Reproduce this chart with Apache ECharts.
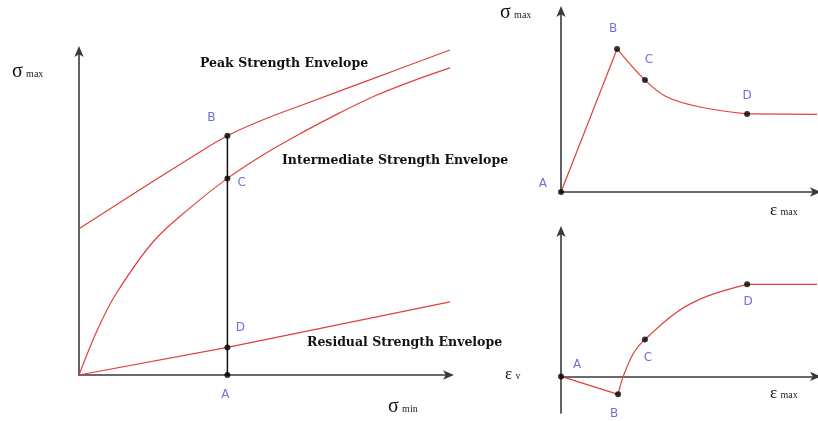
<!DOCTYPE html>
<html><head><meta charset="utf-8">
<script src="https://cdn.jsdelivr.net/npm/echarts@6/dist/echarts.min.js"></script>
<style>html,body{margin:0;padding:0;background:#fff}#c{width:818px;height:421px}</style>
</head><body><div id="c"></div>
<script>
// ---- Left panel: strength envelopes (x = sigma min, y = sigma max)
const peakX = [0, 2, 3, 4, 5, 6, 8, 10];
const peakY = [4.5, 5.96, 6.68, 7.36, 7.87, 8.3, 9.15, 10.0];
const interX = [0, 0.5, 1, 2, 3, 4, 5, 6, 7, 8, 9, 10];
const interY = [0, 1.4, 2.5, 4.1, 5.15, 6.05, 6.8, 7.45, 8.05, 8.6, 9.05, 9.45];
const resX = [0, 4, 10];
const resY = [0, 0.85, 2.25];
const pathX = [4, 4];
const pathY = [0, 7.36];
const leftNames = ['A', 'B', 'C', 'D'];
const leftPtX = [4, 4, 4, 4];
const leftPtY = [0, 7.36, 6.05, 0.85];
// ---- Top right: sigma max vs epsilon max
const trRiseX = [0, 2.19];
const trRiseY = [0, 7.86];
const trSoftX = [2.19, 3.28, 4.14, 5.43, 7.27];
const trSoftY = [7.86, 6.15, 5.22, 4.67, 4.29];
const trFlatX = [7.27, 10];
const trFlatY = [4.29, 4.26];
const trPtX = [0, 2.19, 3.28, 7.27];
const trPtY = [0, 7.86, 6.15, 4.29];
// ---- Bottom right: epsilon v vs epsilon max
const brRiseX = [0, 2.23];
const brRiseY = [0, -0.98];
const brSoftX = [2.23, 2.42, 2.82, 3.28, 4.52, 5.69, 7.27];
const brSoftY = [-0.98, -0.05, 1.24, 2.02, 3.51, 4.37, 5.03];
const brFlatX = [7.27, 10];
const brFlatY = [5.03, 5.03];
const brPtX = [0, 2.23, 3.28, 7.27];
const brPtY = [0, -0.98, 2.02, 5.03];

const zip = (xs, ys) => xs.map((x, i) => [x, ys[i]]);
const RED = '#e0403c';
const AX = {color: '#3a3a3a', width: 1.6};
const BLUE = '#4b4bd6';

function axis(idx, min, max, arrow) {
  return {
    type: 'value', gridIndex: idx, min: min, max: max,
    splitLine: {show: false}, axisTick: {show: false}, axisLabel: {show: false},
    axisLine: {show: true, onZero: true, lineStyle: AX,
      symbol: arrow ? ['none', 'arrow'] : ['none', 'none'], symbolSize: [7, 11], symbolOffset: [0, 4]}
  };
}
function redLine(idx, xs, ys, smooth) {
  return {type: 'line', xAxisIndex: idx, yAxisIndex: idx, data: zip(xs, ys), showSymbol: false,
    smooth: smooth ? 0.35 : false,
    lineStyle: {color: RED, width: 1.2}, silent: true, z: 3};
}
function dots(idx, xs, ys, labelPos) {
  return {type: 'scatter', xAxisIndex: idx, yAxisIndex: idx, symbolSize: 6,
    itemStyle: {color: '#000'}, z: 5, silent: true,
    data: xs.map((x, i) => ({value: [x, ys[i]], name: leftNames[i],
      label: {show: true, formatter: leftNames[i], color: BLUE, fontSize: 12,
        fontFamily: 'DejaVu Sans', position: labelPos[i][0], offset: labelPos[i][1]}}))};
}
const envFont = 'bold 12.5px "DejaVu Serif"';

const chart = echarts.init(document.getElementById('c'));
chart.setOption({
  animation: false,
  backgroundColor: '#fff',
  grid: [
    {left: 79, top: 50, width: 371, height: 325},
    {left: 561, top: 10, width: 256, height: 182},
    {left: 561, top: 230, width: 256, height: 183}
  ],
  xAxis: [axis(0, 0, 10, true), axis(1, 0, 10, true), axis(2, 0, 10, true)],
  yAxis: [axis(0, 0, 10, true), axis(1, 0, 10, true), axis(2, -2, 8, true)],
  series: [
    redLine(0, peakX, peakY, true),
    redLine(0, interX, interY, true),
    redLine(0, resX, resY, false),
    {type: 'line', xAxisIndex: 0, yAxisIndex: 0, data: zip(pathX, pathY), showSymbol: false,
      lineStyle: {color: '#111', width: 1.5}, z: 4, silent: true},
    dots(0, leftPtX, leftPtY, [['bottom', [-2, 6]], ['top', [-16, -4]], ['right', [2, 4]], ['top', [13, -6]]]),
    redLine(1, trRiseX, trRiseY, false),
    redLine(1, trSoftX, trSoftY, true),
    redLine(1, trFlatX, trFlatY, false),
    dots(1, trPtX, trPtY, [['left', [-6, -8]], ['top', [-4, -6]], ['top', [4, -6]], ['top', [0, -4]]]),
    redLine(2, brRiseX, brRiseY, false),
    redLine(2, brSoftX, brSoftY, true),
    redLine(2, brFlatX, brFlatY, false),
    dots(2, brPtX, brPtY, [['right', [4, -12]], ['bottom', [-4, 6]], ['bottom', [3, 4]], ['bottom', [1, 4]]])
  ],
  graphic: [
    {type: 'text', left: 12, top: 62, style: {text: '{s|σ} {m|max}', rich: {
      s: {fontSize: 20, fontFamily: 'Liberation Serif', fill: '#111'},
      m: {fontSize: 10, fontFamily: 'Liberation Serif', fill: '#222', padding: [4, 0, 0, 0]}}}},
    {type: 'text', left: 388, top: 397, style: {text: '{s|σ} {m|min}', rich: {
      s: {fontSize: 20, fontFamily: 'Liberation Serif', fill: '#111'},
      m: {fontSize: 10, fontFamily: 'Liberation Serif', fill: '#222', padding: [4, 0, 0, 0]}}}},
    {type: 'text', left: 500, top: 3, style: {text: '{s|σ} {m|max}', rich: {
      s: {fontSize: 20, fontFamily: 'Liberation Serif', fill: '#111'},
      m: {fontSize: 10, fontFamily: 'Liberation Serif', fill: '#222', padding: [4, 0, 0, 0]}}}},
    {type: 'text', left: 770, top: 202, style: {text: '{s|ε} {m|max}', rich: {
      s: {fontSize: 17, fontFamily: 'Liberation Serif', fill: '#111'},
      m: {fontSize: 10, fontFamily: 'Liberation Serif', fill: '#222', padding: [3, 0, 0, 0]}}}},
    {type: 'text', left: 505, top: 366, style: {text: '{s|ε} {m|v}', rich: {
      s: {fontSize: 17, fontFamily: 'Liberation Serif', fill: '#111'},
      m: {fontSize: 10, fontFamily: 'Liberation Serif', fill: '#222', padding: [3, 0, 0, 0]}}}},
    {type: 'text', left: 770, top: 385, style: {text: '{s|ε} {m|max}', rich: {
      s: {fontSize: 17, fontFamily: 'Liberation Serif', fill: '#111'},
      m: {fontSize: 10, fontFamily: 'Liberation Serif', fill: '#222', padding: [3, 0, 0, 0]}}}},
    {type: 'text', left: 200, top: 57, style: {text: 'Peak Strength Envelope', font: envFont, fill: '#111'}},
    {type: 'text', left: 282, top: 154, style: {text: 'Intermediate Strength Envelope', font: envFont, fill: '#111'}},
    {type: 'text', left: 307, top: 336, style: {text: 'Residual Strength Envelope', font: envFont, fill: '#111'}}
  ]
});
</script></body></html>
